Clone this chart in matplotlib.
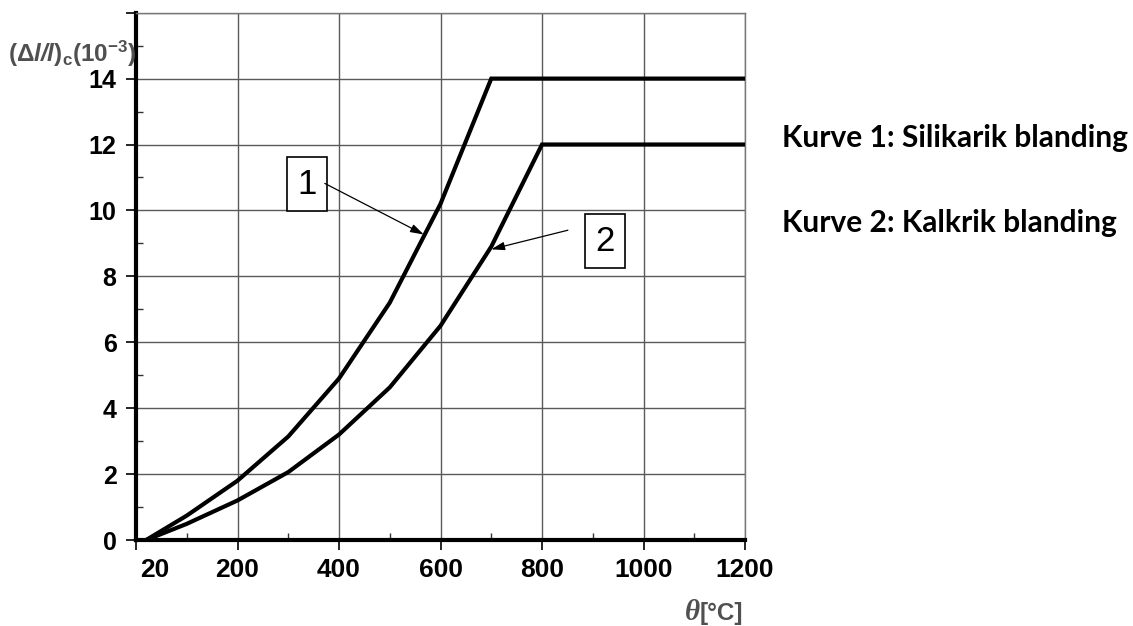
import numpy as np
import matplotlib.pyplot as plt
from matplotlib.ticker import MultipleLocator
from matplotlib.transforms import ScaledTranslation

# thermal strain of concrete vs temperature
temp_1 = [20, 100, 200, 300, 400, 500, 600, 700, 1200]
strain_1 = [0, 0.74, 1.8, 3.14, 4.9, 7.2, 10.2, 14, 14]

temp_2 = [20, 100, 200, 300, 400, 500, 600, 700, 800, 1200]
strain_2 = [0, 0.49, 1.2, 2.06, 3.2, 4.63, 6.5, 8.9, 12, 12]

xticks = [0, 200, 400, 600, 800, 1000, 1200]
xlabels = ['20', '200', '400', '600', '800', '1000', '1200']
yticks = [0, 2, 4, 6, 8, 10, 12, 14, 16]
ylabels = ['0', '2', '4', '6', '8', '10', '12', '14', '']

legend_lines = ['Kurve 1: Silikarik blanding', 'Kurve 2: Kalkrik blanding']

plt.rcParams['font.family'] = ['Liberation Sans', 'DejaVu Sans']
plt.rcParams['mathtext.fontset'] = 'custom'
plt.rcParams['mathtext.rm'] = 'Liberation Sans'
plt.rcParams['mathtext.it'] = 'Liberation Sans:italic'
plt.rcParams['mathtext.bf'] = 'Liberation Sans:bold'
plt.rcParams['mathtext.bfit'] = 'Liberation Sans:bold:italic'

W, H = 1133, 626
fig = plt.figure(figsize=(W / 100, H / 100), dpi=100)
ax = fig.add_axes([136 / W, 1 - 540 / H, (745 - 136) / W, (540 - 12.7) / H])

ax.plot(temp_1, strain_1, color='black', lw=3, solid_joinstyle='miter', zorder=3)
ax.plot(temp_2, strain_2, color='black', lw=3, solid_joinstyle='miter', zorder=3)

ax.set_xlim(0, 1200)
ax.set_ylim(0, 16)
ax.set_xticks(xticks)
ax.set_xticklabels(xlabels)
ax.set_yticks(yticks)
ax.set_yticklabels(ylabels)
ax.xaxis.set_minor_locator(MultipleLocator(100))
ax.yaxis.set_minor_locator(MultipleLocator(1))

ax.grid(True, which='major', color='#5a5a5a', lw=1)
ax.set_axisbelow(True)

ax.tick_params(which='major', direction='out', length=7, width=1.2, color='black')
ax.tick_params(which='minor', direction='in', length=5, width=1, color='#333333')
ax.tick_params(axis='x', which='major', pad=6, labelsize=19)
ax.tick_params(axis='y', which='major', pad=7, labelsize=18)
for lab in ax.get_xticklabels() + ax.get_yticklabels():
    lab.set_fontweight('bold')

# first x label sits a bit to the right of the axis corner
first = ax.get_xticklabels()[0]
first.set_transform(first.get_transform() + ScaledTranslation(0.19, 0, fig.dpi_scale_trans))

for side in ['left', 'bottom']:
    ax.spines[side].set_linewidth(3)
    ax.spines[side].set_color('black')
for side in ['top', 'right']:
    ax.spines[side].set_linewidth(1)
    ax.spines[side].set_color('#777777')

# curve markers with arrows
box = dict(boxstyle='square,pad=0.3', fc='white', ec='black', lw=1.2)
ax.text(337, 10.8, '1', fontsize=25, ha='center', va='center', bbox=box, zorder=4)
ax.text(924, 9.06, '2', fontsize=25, ha='center', va='center', bbox=box, zorder=4)
arrow = dict(arrowstyle='-|>,head_length=0.8,head_width=0.25', color='black', lw=0.9,
             shrinkA=0, shrinkB=0)
ax.annotate('', xy=(567, 9.27), xytext=(372, 10.82), arrowprops=arrow, zorder=4)
ax.annotate('', xy=(700, 8.82), xytext=(851, 9.4), arrowprops=arrow, zorder=4)

# axis titles
fig.text(8 / W, 1 - 62 / H,
         r'$\mathbf{(\Delta}\mathbfit{l/l}\mathbf{)}_{\mathbf{c}}\mathbf{(10}^{\mathbf{-3}}\mathbf{)}$',
         fontsize=17.5, color='#505050', ha='left', va='baseline')
fig.text(743 / W, 1 - 620 / H, '[°C]', fontsize=17.5, fontweight='bold',
         color='#505050', ha='right', va='baseline')
fig.text(700 / W, 1 - 620 / H, 'θ', fontsize=21, fontweight='bold', style='italic',
         family=['Liberation Serif', 'DejaVu Serif'],
         color='#505050', ha='right', va='baseline')

for i, line in enumerate(legend_lines):
    fig.text(782 / W, 1 - (147 + 85 * i) / H, line, fontsize=21.5, fontweight='bold',
             family=['Lato', 'DejaVu Sans'], ha='left', va='baseline')

fig.savefig('out.png', dpi=100)
